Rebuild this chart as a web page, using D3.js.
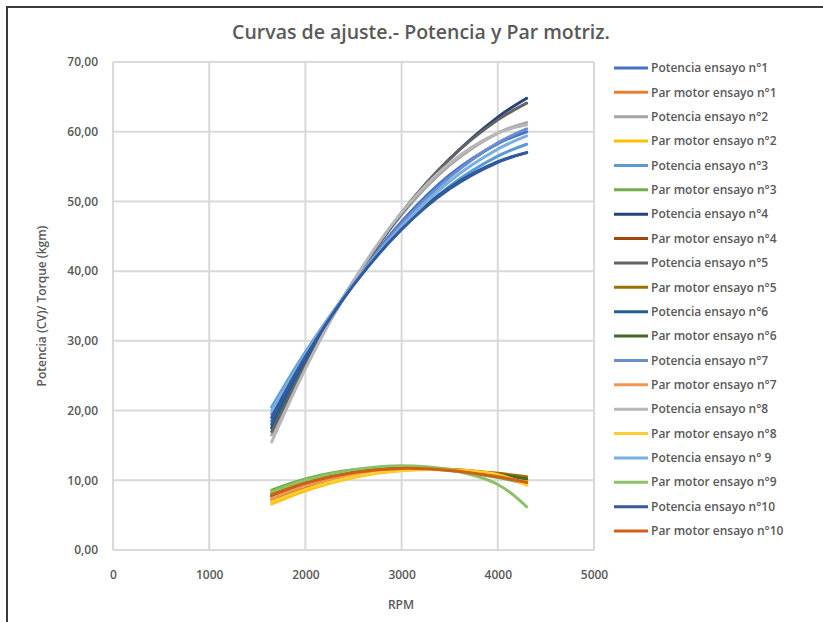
<!DOCTYPE html>
<html>
<head>
<meta charset="utf-8">
<script src="https://cdn.jsdelivr.net/npm/d3@7"></script>
<style>
  body { margin: 0; background: #fff; }
  text { font-family: "Open Sans", sans-serif; fill: #595959; font-weight: 600; }
</style>
</head>
<body>
<div id="grafico"></div>
<script>
const rpm = [1650, 2000, 2500, 3000, 3500, 4000, 4300];

// Potencia (CV) por ensayo
const potencia1 = [18.5, 27.4, 38.3, 47.1, 53.8, 58.3, 60.0];
const potencia2 = [16.5, 26.4, 38.5, 48.1, 55.2, 59.8, 61.3];
const potencia3 = [20.5, 28.4, 38.1, 46.0, 52.2, 56.5, 58.2];
const potencia4 = [17.5, 26.8, 38.5, 48.3, 56.1, 62.1, 64.8];
const potencia5 = [17.0, 26.6, 38.5, 48.4, 56.1, 61.7, 64.1];
const potencia6 = [18.0, 27.3, 38.1, 46.3, 52.0, 55.7, 57.0];
const potencia7 = [19.5, 27.9, 38.2, 46.8, 53.5, 58.4, 60.4];
const potencia8 = [15.5, 26.0, 38.6, 48.4, 55.5, 59.8, 61.0];
const potencia9 = [20.0, 28.1, 38.2, 46.4, 52.9, 57.5, 59.4];
const potencia10 = [19.0, 27.7, 38.0, 46.0, 51.8, 55.6, 57.0];

// Par motor (kgm) por ensayo
const par1 = [7.6, 9.3, 10.9, 11.6, 11.5, 10.7, 9.9];
const par2 = [6.6, 8.5, 10.4, 11.4, 11.5, 10.8, 10.0];
const par3 = [8.6, 10.2, 11.5, 11.8, 11.4, 10.4, 9.5];
const par4 = [7.8, 9.5, 11.1, 11.7, 11.5, 10.8, 10.3];
const par5 = [7.2, 9.0, 10.8, 11.6, 11.6, 11.0, 10.5];
const par6 = [8.2, 9.8, 11.3, 11.8, 11.5, 10.8, 10.2];
const par7 = [7.4, 9.2, 10.9, 11.6, 11.5, 10.7, 9.6];
const par8 = [6.9, 8.7, 10.5, 11.4, 11.5, 10.8, 9.3];
const par9 = [8.3, 10.0, 11.5, 12.1, 11.5, 9.4, 6.2];
const par10 = [7.9, 9.6, 11.1, 11.7, 11.4, 10.5, 9.7];

const nombres = [
  'Potencia ensayo n°1', 'Par motor ensayo n°1',
  'Potencia ensayo n°2', 'Par motor ensayo n°2',
  'Potencia ensayo n°3', 'Par motor ensayo n°3',
  'Potencia ensayo n°4', 'Par motor ensayo n°4',
  'Potencia ensayo n°5', 'Par motor ensayo n°5',
  'Potencia ensayo n°6', 'Par motor ensayo n°6',
  'Potencia ensayo n°7', 'Par motor ensayo n°7',
  'Potencia ensayo n°8', 'Par motor ensayo n°8',
  'Potencia ensayo n° 9', 'Par motor ensayo n°9',
  'Potencia ensayo n°10', 'Par motor ensayo n°10'
];
const valores = [
  potencia1, par1, potencia2, par2, potencia3, par3, potencia4, par4,
  potencia5, par5, potencia6, par6, potencia7, par7, potencia8, par8,
  potencia9, par9, potencia10, par10
];
const colores = [
  '#4472C4', '#ED7D31', '#A5A5A5', '#FFC000', '#5B9BD5', '#70AD47',
  '#264478', '#9E480E', '#636363', '#997300', '#255E91', '#43682B',
  '#698ED0', '#F1975A', '#B7B7B7', '#FFCD33', '#7CAFDD', '#8CC168',
  '#335AA1', '#D26012'
];

const xTicks = [0, 1000, 2000, 3000, 4000, 5000];
const yTicks = [0, 10, 20, 30, 40, 50, 60, 70];

function crearGrafico() {
  const ancho = 823;
  const alto = 622;
  const area = { left: 113, right: 594, top: 62, bottom: 550 };

  const svg = d3
    .select('#grafico')
    .append('svg')
    .attr('width', ancho)
    .attr('height', alto);

  // Marco exterior
  svg
    .append('rect')
    .attr('x', 7)
    .attr('y', 7)
    .attr('width', 840)
    .attr('height', 640)
    .attr('fill', 'none')
    .attr('stroke', '#3a3a3a')
    .attr('stroke-width', 2);

  const x = d3.scaleLinear().domain([0, 5000]).range([area.left, area.right]);
  const y = d3.scaleLinear().domain([0, 70]).range([area.bottom, area.top]);

  // Rejilla
  svg
    .append('g')
    .selectAll('line')
    .data(yTicks)
    .enter()
    .append('line')
    .attr('x1', area.left)
    .attr('x2', area.right)
    .attr('y1', (d) => y(d))
    .attr('y2', (d) => y(d))
    .attr('stroke', '#d9d9d9')
    .attr('stroke-width', 2);

  svg
    .append('g')
    .selectAll('line')
    .data(xTicks)
    .enter()
    .append('line')
    .attr('x1', (d) => x(d))
    .attr('x2', (d) => x(d))
    .attr('y1', area.top)
    .attr('y2', area.bottom)
    .attr('stroke', '#d9d9d9')
    .attr('stroke-width', 2);

  // Ejes
  const ejeY = svg
    .append('g')
    .attr('transform', `translate(${area.left - 12},0)`)
    .call(
      d3
        .axisLeft(y)
        .tickValues(yTicks)
        .tickSize(0)
        .tickFormat((d) => d3.format('.2f')(d).replace('.', ','))
    );
  ejeY.select('.domain').remove();
  ejeY.selectAll('text').style('font-size', '12px').attr('fill', '#595959');

  const ejeX = svg
    .append('g')
    .attr('transform', `translate(0,${area.bottom + 17})`)
    .call(d3.axisBottom(x).tickValues(xTicks).tickSize(0).tickFormat(d3.format('d')));
  ejeX.select('.domain').remove();
  ejeX.selectAll('text').style('font-size', '12px').attr('fill', '#595959');

  // Curvas
  const linea = d3
    .line()
    .x((d) => x(d[0]))
    .y((d) => y(d[1]))
    .curve(d3.curveCatmullRom.alpha(0.5));

  svg
    .append('g')
    .selectAll('path')
    .data(valores)
    .enter()
    .append('path')
    .attr('d', (serie) => linea(serie.map((v, i) => [rpm[i], v])))
    .attr('fill', 'none')
    .attr('stroke', (d, i) => colores[i])
    .attr('stroke-width', 3)
    .attr('stroke-linecap', 'round');

  // Títulos
  svg
    .append('text')
    .attr('x', 421)
    .attr('y', 39)
    .attr('text-anchor', 'middle')
    .style('font-size', '19.5px')
    .text('Curvas de ajuste.- Potencia y Par motriz.');

  svg
    .append('text')
    .attr('x', 401)
    .attr('y', 609)
    .attr('text-anchor', 'middle')
    .style('font-size', '12px')
    .text('RPM');

  svg
    .append('text')
    .attr('transform', 'translate(46,306) rotate(-90)')
    .attr('text-anchor', 'middle')
    .style('font-size', '12px')
    .text('Potencia (CV)/ Torque (kgm)');

  // Leyenda
  const leyenda = svg
    .append('g')
    .selectAll('g')
    .data(nombres)
    .enter()
    .append('g')
    .attr('transform', (d, i) => `translate(614,${68 + i * 24.37})`);

  leyenda
    .append('line')
    .attr('x1', 0)
    .attr('x2', 34)
    .attr('stroke', (d, i) => colores[i])
    .attr('stroke-width', 3);

  leyenda
    .append('text')
    .attr('x', 37)
    .attr('dy', '0.35em')
    .style('font-size', '12px')
    .text((d) => d);
}

crearGrafico();
</script>
</body>
</html>
